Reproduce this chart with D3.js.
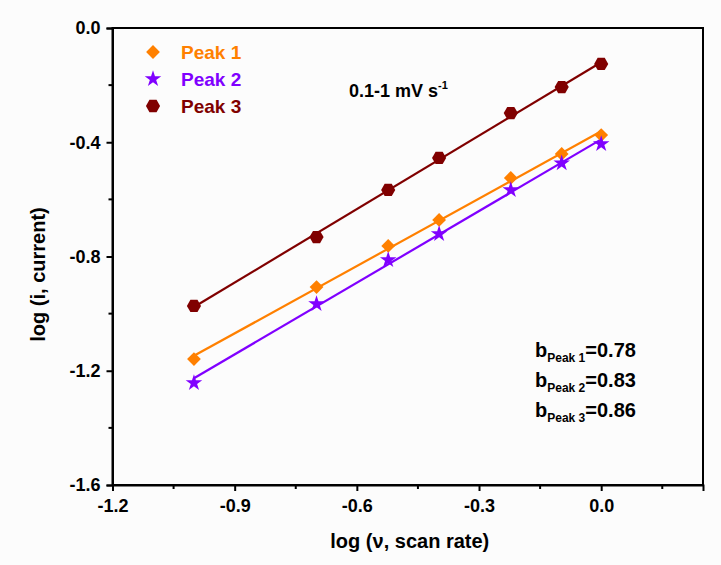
<!DOCTYPE html>
<html>
<head>
<meta charset="utf-8">
<script src="https://cdn.jsdelivr.net/npm/d3@7"></script>
<style>
  html, body { margin: 0; padding: 0; background: #fcfcfc; }
  svg { display: block; font-family: "Liberation Sans", Arial, sans-serif; font-weight: bold; }
</style>
</head>
<body>
<svg id="chart" width="721" height="565"></svg>
<script>
// ---- data ----
const logScanRate = [-1.0, -0.699, -0.523, -0.398, -0.222, -0.097, 0.0];
const peak1 = [-1.159, -0.907, -0.763, -0.672, -0.525, -0.441, -0.375];
const peak2 = [-1.243, -0.966, -0.812, -0.721, -0.567, -0.473, -0.406];
const peak3 = [-0.973, -0.732, -0.567, -0.455, -0.298, -0.207, -0.126];
const seriesNames = ["Peak 1", "Peak 2", "Peak 3"];
const bValues = ["0.78", "0.83", "0.86"];
const xTicks = [-1.2, -0.9, -0.6, -0.3, 0.0];
const yTicks = [0.0, -0.4, -0.8, -1.2, -1.6];

const colors = ["#ff8000", "#8000ff", "#800000"];
const seriesData = [peak1, peak2, peak3];

const svg = d3.select("#chart");
const M = { left: 112.5, right: 703, top: 28, bottom: 485 };

const x = d3.scaleLinear().domain([-1.2, 0.25]).range([M.left, M.right]);
const y = d3.scaleLinear().domain([-1.6, 0.0]).range([M.bottom, M.top]);

// hexagon symbol
const hexagon = {
  draw(ctx, size) {
    const r = Math.sqrt(size / (1.5 * Math.sqrt(3)));
    for (let i = 0; i < 6; i++) {
      const a = Math.PI / 3 * i;
      const px = r * Math.cos(a), py = r * Math.sin(a);
      if (i === 0) ctx.moveTo(px, py); else ctx.lineTo(px, py);
    }
    ctx.closePath();
  }
};
const symbols = [
  { type: d3.symbolSquare, size: 95, rot: 45 },
  { type: d3.symbolStar, size: 85, rot: 0 },
  { type: hexagon, size: 130, rot: 0 }
];

// frame
svg.append("rect")
  .attr("x", M.left).attr("y", M.top)
  .attr("width", M.right - M.left).attr("height", M.bottom - M.top)
  .attr("fill", "none").attr("stroke", "#000").attr("stroke-width", 2);

// axes
const fmt = d => d.toFixed(1);
const xAxis = d3.axisBottom(x).tickValues(xTicks).tickFormat(fmt).tickSize(6).tickPadding(5);
const yAxis = d3.axisLeft(y).tickValues(yTicks).tickFormat(fmt).tickSize(6).tickPadding(5);

const gx = svg.append("g").attr("transform", `translate(0,${M.bottom})`).call(xAxis);
const gy = svg.append("g").attr("transform", `translate(${M.left},0)`).call(yAxis);
[gx, gy].forEach(g => {
  g.select(".domain").attr("stroke", "#000").attr("stroke-width", 2);
  g.selectAll(".tick line").attr("stroke", "#000").attr("stroke-width", 2);
  g.selectAll(".tick text").attr("fill", "#000").style("font-size", "18px")
    .style("font-family", "'Liberation Sans', Arial, sans-serif").style("font-weight", "bold");
});
gy.selectAll(".tick text").attr("dx", "-1");
gx.selectAll(".tick text").attr("dy", "0.9em");

// minor ticks
const xMinor = [-1.05, -0.75, -0.45, -0.15, 0.15];
const yMinor = [-0.2, -0.6, -1.0, -1.4];
svg.append("g").selectAll("line").data(xMinor).join("line")
  .attr("x1", d => x(d)).attr("x2", d => x(d))
  .attr("y1", M.bottom).attr("y2", M.bottom + 4)
  .attr("stroke", "#000").attr("stroke-width", 2);
svg.append("g").selectAll("line").data(yMinor).join("line")
  .attr("y1", d => y(d)).attr("y2", d => y(d))
  .attr("x1", M.left).attr("x2", M.left - 4)
  .attr("stroke", "#000").attr("stroke-width", 2);

// axis titles
svg.append("text")
  .attr("x", x(-0.47)).attr("y", 548)
  .attr("text-anchor", "middle").style("font-size", "20px")
  .text("log (ν, scan rate)");
svg.append("text")
  .attr("transform", `translate(45,${(M.top + M.bottom) / 2 + 18}) rotate(-90)`)
  .attr("text-anchor", "middle").style("font-size", "20px")
  .text("log (i, current)");

// linear fits
function fit(xs, ys) {
  const mx = d3.mean(xs), my = d3.mean(ys);
  let sxy = 0, sxx = 0;
  xs.forEach((xv, i) => { sxy += (xv - mx) * (ys[i] - my); sxx += (xv - mx) * (xv - mx); });
  const m = sxy / sxx;
  return { m, c: my - m * mx };
}
const xMin = d3.min(logScanRate), xMax = d3.max(logScanRate);
seriesData.forEach((vals, k) => {
  const f = fit(logScanRate, vals);
  svg.append("line")
    .attr("x1", x(xMin)).attr("y1", y(f.m * xMin + f.c))
    .attr("x2", x(xMax)).attr("y2", y(f.m * xMax + f.c))
    .attr("stroke", colors[k]).attr("stroke-width", 2.2);
});

// markers
seriesData.forEach((vals, k) => {
  const s = symbols[k];
  svg.append("g").selectAll("path").data(vals).join("path")
    .attr("d", d3.symbol().type(s.type).size(s.size))
    .attr("transform", (d, i) => `translate(${x(logScanRate[i])},${y(d)}) rotate(${s.rot})`)
    .attr("fill", colors[k]);
});

// legend
const legendY = [52, 79, 106];
seriesNames.forEach((name, k) => {
  const s = symbols[k];
  svg.append("path")
    .attr("d", d3.symbol().type(s.type).size(s.size))
    .attr("transform", `translate(153,${legendY[k]}) rotate(${s.rot})`)
    .attr("fill", colors[k]);
  svg.append("text")
    .attr("x", 181).attr("y", legendY[k] + 7)
    .attr("fill", colors[k]).style("font-size", "19px")
    .text(name);
});

// annotation
const ann = svg.append("text").attr("x", 349).attr("y", 97).style("font-size", "18px");
ann.append("tspan").text("0.1-1 mV s");
ann.append("tspan").attr("dy", -8).style("font-size", "11px").text("-1");

// b values
const bY = [357, 387, 417];
bValues.forEach((v, k) => {
  const t = svg.append("text").attr("x", 535).attr("y", bY[k]).style("font-size", "20px");
  t.append("tspan").text("b");
  t.append("tspan").attr("dy", 5).style("font-size", "12px").text(seriesNames[k]);
  t.append("tspan").attr("dy", -5).text("=" + v);
});
</script>
</body>
</html>
